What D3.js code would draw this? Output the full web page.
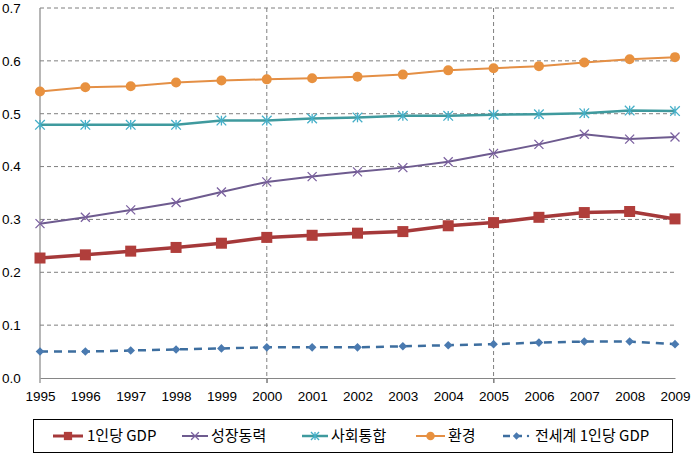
<!DOCTYPE html>
<html><head><meta charset="utf-8">
<script src="https://cdn.jsdelivr.net/npm/d3@7/dist/d3.min.js"></script>
<style>body{margin:0;background:#fff}svg{display:block;font-family:"Noto Sans CJK KR","Noto Sans",sans-serif}</style>
</head><body><svg id="c" width="693" height="456"></svg>
<script>
const years = ["1995","1996","1997","1998","1999","2000","2001","2002","2003","2004","2005","2006","2007","2008","2009"];
const yTicks = [0,0.1,0.2,0.3,0.4,0.5,0.6,0.7];
const gdpPerCapita = [0.227,0.233,0.240,0.247,0.255,0.266,0.270,0.274,0.277,0.288,0.294,0.304,0.313,0.315,0.301];
const growthEngine = [0.292,0.304,0.318,0.332,0.352,0.371,0.381,0.390,0.398,0.409,0.425,0.442,0.461,0.452,0.456];
const socialCohesion = [0.479,0.479,0.479,0.479,0.487,0.487,0.491,0.493,0.496,0.496,0.498,0.499,0.501,0.506,0.505];
const environment = [0.542,0.550,0.552,0.559,0.563,0.565,0.567,0.570,0.574,0.582,0.586,0.590,0.597,0.603,0.607];
const worldGdp = [0.050,0.050,0.052,0.054,0.056,0.058,0.058,0.058,0.060,0.062,0.064,0.067,0.069,0.069,0.064];
const seriesNames = ["1인당 GDP","성장동력","사회통합","환경","전세계 1인당 GDP"];

const series = [
  {name:seriesNames[0], values:gdpPerCapita, line:"#A5393A", mark:"#B03E3B", w:3.5, marker:"square", dash:null},
  {name:seriesNames[1], values:growthEngine, line:"#6E5B8F", mark:"#7C62A0", w:2, marker:"x", dash:null},
  {name:seriesNames[2], values:socialCohesion, line:"#3F9A9E", mark:"#45AFC8", w:2.5, marker:"star", dash:null},
  {name:seriesNames[3], values:environment, line:"#E48F45", mark:"#E8913F", w:2, marker:"circle", dash:null},
  {name:seriesNames[4], values:worldGdp, line:"#3D6E9F", mark:"#4A7AB0", w:2.5, marker:"diamond", dash:"8,6"}
];

const svg = d3.select("#c");
const L=40, R=675, T=8, B=378;
const x = d3.scalePoint().domain(years).range([L,R]);
const y = d3.scaleLinear().domain([0,0.7]).range([B,T]);

// horizontal gridlines
svg.append("g").selectAll("line").data(yTicks.filter(d=>d>0)).join("line")
  .attr("x1",L).attr("x2",R).attr("y1",d=>y(d)).attr("y2",d=>y(d))
  .attr("stroke","#7f7f7f").attr("stroke-width",1).attr("stroke-dasharray","4,3");
// vertical gridlines
svg.append("g").selectAll("line").data(["2000","2005"]).join("line")
  .attr("x1",d=>x(d)).attr("x2",d=>x(d)).attr("y1",T).attr("y2",B+5)
  .attr("stroke","#7f7f7f").attr("stroke-width",1).attr("stroke-dasharray","4,3");

// axes
const yAxis = svg.append("g").attr("transform",`translate(${L},0)`)
  .call(d3.axisLeft(y).tickValues(yTicks).tickFormat(d3.format(".1f")).tickSize(0).tickPadding(18));
yAxis.select(".domain").remove();
yAxis.selectAll("text").attr("font-size",13.5).attr("fill","#000").attr("text-anchor","start").attr("x",-38);
svg.append("line").attr("x1",L).attr("x2",L).attr("y1",T).attr("y2",B+5).attr("stroke","#868686").attr("stroke-width",1.2);

const xAxis = svg.append("g").attr("transform",`translate(0,${B})`)
  .call(d3.axisBottom(x).tickSize(0).tickPadding(13));
xAxis.select(".domain").attr("stroke","#868686").attr("stroke-width",1.2);
xAxis.selectAll("text").attr("font-size",13.5).attr("fill","#000");
xAxis.selectAll(".tick").each(function(d){
  if(d==="2000"||d==="2005") d3.select(this).append("line").attr("y1",0).attr("y2",5).attr("stroke","#868686");
});

function drawMarker(g, type, cx, cy, color, scale){
  const s = scale||1;
  if(type==="square"){
    g.append("rect").attr("x",cx-5.5*s).attr("y",cy-5.5*s).attr("width",11*s).attr("height",11*s).attr("fill",color);
  } else if(type==="circle"){
    g.append("circle").attr("cx",cx).attr("cy",cy).attr("r",5*s).attr("fill",color);
  } else if(type==="diamond"){
    const r=4.3*s;
    g.append("path").attr("d",`M${cx},${cy-r}L${cx+r},${cy}L${cx},${cy+r}L${cx-r},${cy}Z`).attr("fill",color);
  } else if(type==="x"){
    const r=4.5*s;
    g.append("path").attr("d",`M${cx-r},${cy-r}L${cx+r},${cy+r}M${cx-r},${cy+r}L${cx+r},${cy-r}`).attr("stroke",color).attr("stroke-width",1.3).attr("fill","none");
  } else if(type==="star"){
    const r=4.8*s;
    g.append("path").attr("d",`M${cx-r},${cy-r}L${cx+r},${cy+r}M${cx-r},${cy+r}L${cx+r},${cy-r}M${cx},${cy-r}L${cx},${cy+r}`).attr("stroke",color).attr("stroke-width",1.3).attr("fill","none");
  }
}

const line = d3.line().x((d,i)=>x(years[i])).y(d=>y(d));
series.forEach(s=>{
  const g = svg.append("g");
  g.append("path").attr("d",line(s.values)).attr("fill","none").attr("stroke",s.line)
    .attr("stroke-width",s.w).attr("stroke-dasharray",s.dash);
  s.values.forEach((v,i)=>drawMarker(g,s.marker,x(years[i]),y(v),s.mark,1));
});

// legend
const lg = svg.append("g");
lg.append("rect").attr("x",33.5).attr("y",419.5).attr("width",639).attr("height",33).attr("fill","#fff").attr("stroke","#000").attr("stroke-width",1);
const legendPos = [{x0:53,x1:83,tx:87},{x0:182,x1:208,tx:211},{x0:302,x1:328,tx:331},{x0:416,x1:445,tx:448},{x0:503,x1:528,tx:535}];
const ly = 436;
series.forEach((s,i)=>{
  const p = legendPos[i];
  lg.append("line").attr("x1",p.x0).attr("x2",s.dash?p.x1-5:p.x1).attr("y1",ly).attr("y2",ly)
    .attr("stroke",s.line).attr("stroke-width",Math.min(s.w,3)).attr("stroke-dasharray",s.dash?"7,5":null);
  if(s.dash) lg.append("circle").attr("cx",p.x1).attr("cy",ly).attr("r",1.2).attr("fill",s.line);
  drawMarker(lg,s.marker,(p.x0+p.x1)/2 + (s.dash?1:0),ly,s.mark,s.marker==="square"?0.75:0.85);
  lg.append("text").attr("x",p.tx).attr("y",ly).attr("dy","0.36em").attr("font-size",15).attr("fill","#000").text(s.name);
});
</script></body></html>
